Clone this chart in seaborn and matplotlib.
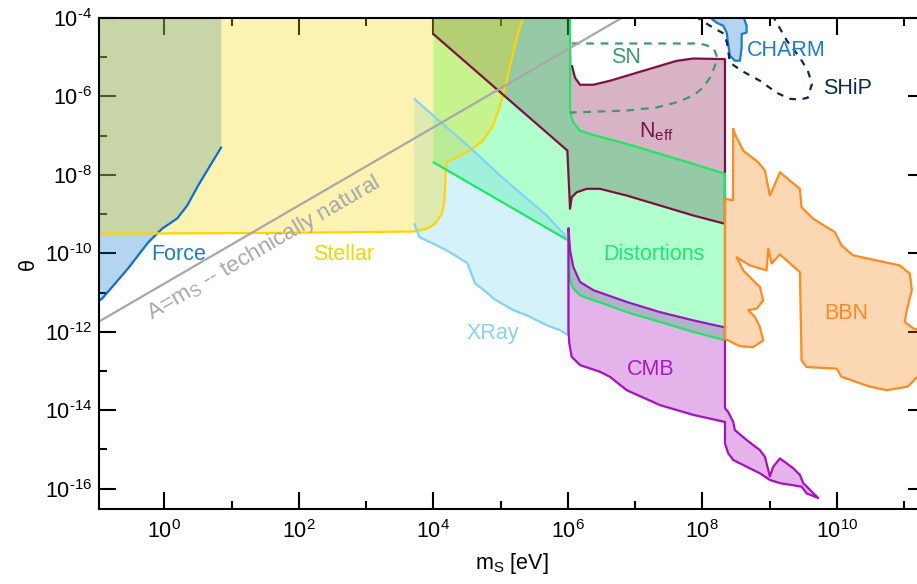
import numpy as np
import matplotlib
matplotlib.use("Agg")
import matplotlib.pyplot as plt
import seaborn as sns
from matplotlib.ticker import NullFormatter

# ---------------- data (log10 m_S [eV], log10 theta) ----------------
force_pts = [(-0.98, -11.22), (-0.921, -11.15), (-0.535, -10.38), (-0.238, -9.72), (-0.030, -9.37),
             (0.193, -9.11), (0.342, -8.78), (0.505, -8.27), (0.684, -7.76), (0.847, -7.30)]
force_top = [(0.847, -3.9), (-0.98, -3.9)]

stellar_pts = [(-0.98, -9.50), (1.724, -9.48), (3.703, -9.445), (3.903, -9.374), (4.027, -9.247),
               (4.126, -8.992), (4.16, -8.738), (4.175, -8.315), (4.186, -7.89), (4.198, -7.68),
               (4.547, -7.382), (4.74, -7.127), (4.889, -6.746), (4.993, -6.24), (5.067, -5.78),
               (5.141, -5.22), (5.215, -4.71), (5.26, -4.38), (5.345, -3.95)]
stellar_top = [(-0.98, -3.95)]

neff_pts = [(4.001, -3.95), (4.001, -4.41), (5.993, -7.38), (6.033, -8.865), (6.058, -8.57),
            (6.132, -8.443), (6.281, -8.356), (6.478, -8.356), (6.875, -8.527), (7.370, -8.781),
            (7.865, -9.036), (8.336, -9.247), (8.336, -5.048), (7.865, -5.033), (7.618, -5.092),
            (7.370, -5.219), (7.122, -5.346), (6.875, -5.473), (6.627, -5.60), (6.379, -5.702),
            (6.181, -5.702), (6.107, -5.524), (6.062, -5.22), (6.048, -4.58), (6.04, -3.95)]

dist_pts = [(4.001, -7.679), (6.007, -9.672), (6.033, -10.69), (6.082, -10.90), (6.181, -11.07),
            (6.379, -11.20), (6.528, -11.28), (6.875, -11.50), (7.370, -11.75), (7.865, -12.005),
            (8.336, -12.216), (8.336, -7.975), (7.865, -7.72), (7.370, -7.466), (6.875, -7.211),
            (6.379, -6.982), (6.181, -6.873), (6.082, -6.662), (6.033, -6.407), (6.033, -3.95),
            (4.001, -3.95)]

xray_pts = [(3.719, -6.066), (4.201, -6.789), (4.596, -7.382), (4.993, -8.018), (5.339, -8.527),
            (5.686, -9.036), (6.007, -9.628), (6.007, -12.09), (5.884, -11.96), (5.686, -11.835),
            (5.389, -11.58), (5.190, -11.45), (4.893, -11.155), (4.844, -11.07), (4.721, -10.90),
            (4.621, -10.77), (4.547, -10.43), (4.507, -10.25), (4.201, -9.926), (4.001, -9.756),
            (3.793, -9.588), (3.755, -9.417), (3.719, -9.247)]

cmb_pts = [(6.01, -9.366), (6.033, -9.926), (6.082, -10.35), (6.181, -10.73), (6.379, -10.94),
           (6.875, -11.24), (7.370, -11.50), (7.865, -11.71), (8.336, -11.89), (8.336, -13.95),
           (8.385, -14.05), (8.459, -14.30), (8.484, -14.51), (8.658, -14.76), (8.856, -15.02),
           (8.930, -15.19), (9.004, -15.69), (9.054, -15.44), (9.153, -15.23), (9.351, -15.48),
           (9.45, -15.65), (9.50, -15.86), (9.722, -16.24), (9.549, -16.12), (9.475, -15.95),
           (9.153, -15.86), (9.004, -15.78), (8.856, -15.61), (8.657, -15.44), (8.459, -15.27),
           (8.385, -15.10), (8.336, -14.845), (8.336, -14.30), (7.865, -14.12), (7.370, -13.87),
           (6.875, -13.49), (6.627, -13.15), (6.478, -13.02), (6.181, -12.85), (6.058, -12.64),
           (6.022, -12.30), (6.01, -11.96)]

bbn_pts = [(8.459, -6.83), (8.484, -6.957), (8.608, -7.382), (8.831, -7.679), (8.930, -7.891),
           (9.004, -8.527), (9.153, -7.934), (9.450, -8.356), (9.475, -8.824), (9.648, -9.12),
           (9.970, -9.46), (10.07, -9.80), (10.24, -10.05), (10.936, -10.31), (11.085, -10.52),
           (11.114, -10.94), (11.04, -11.45), (11.01, -11.75), (11.13, -11.91), (11.45, -12.09),
           (11.45, -13.11), (11.19, -13.16), (11.055, -13.40), (10.74, -13.49), (10.49, -13.40),
           (10.07, -13.15), (9.995, -12.94), (9.549, -12.90), (9.475, -12.73), (9.450, -10.48),
           (9.153, -10.03), (9.03, -10.26), (8.98, -9.88), (8.955, -10.435), (8.707, -10.31),
           (8.51, -10.10), (8.608, -10.435), (8.707, -10.61), (8.856, -10.86), (8.905, -11.20),
           (8.807, -11.41), (8.682, -11.45), (8.781, -11.62), (8.856, -11.88), (8.905, -12.22),
           (8.757, -12.39), (8.559, -12.37), (8.361, -12.20), (8.336, -12.19), (8.336, -8.61),
           (8.455, -8.65), (8.459, -6.83)]

sn_pts = [(6.058, -4.65), (7.073, -4.65), (7.964, -4.65), (8.162, -4.75), (8.212, -4.96),
          (8.187, -5.22), (8.113, -5.52), (8.013, -5.77), (7.865, -5.98), (7.618, -6.15),
          (7.321, -6.28), (6.875, -6.36), (6.379, -6.39), (6.033, -6.41)]

charm_pts = [(8.088, -3.95), (8.213, -4.12), (8.311, -4.20), (8.361, -4.37), (8.385, -4.67),
             (8.410, -4.965), (8.484, -5.09), (8.559, -5.09), (8.584, -4.75), (8.584, -4.41),
             (8.658, -4.37), (8.658, -4.20), (8.608, -3.95)]

ship_pts = [(7.89, -3.95), (8.143, -4.23), (8.321, -4.40), (8.366, -4.63), (8.41, -5.14),
            (8.588, -5.35), (8.856, -5.60), (9.108, -5.91), (9.301, -6.06), (9.45, -6.08),
            (9.569, -6.03), (9.629, -5.68), (9.569, -5.35), (9.45, -5.01), (9.257, -4.58),
            (9.049, -3.95)]

natural_pts = [(-0.97, -11.74), (6.85, -3.95)]

labels = ["Force", "Stellar", "XRay", "Distortions", "CMB", "N$_\\mathrm{eff}$", "SN",
          "CHARM", "SHiP", "BBN"]
label_pos = [(0.215, -10.04), (2.66, -10.04), (4.881, -12.05), (7.273, -10.04), (7.236, -12.97),
             (7.31, -6.90), (6.86, -5.0), (9.24, -4.84), (10.16, -5.80), (10.14, -11.54)]
label_col = ["#1e78d2", "#f8d400", "#87d3f8", "#1ee870", "#aa18c8", "#7a1446", "#3d9a6c",
             "#1a7ad6", "#0e2a4a", "#ff8a20"]

xmajor_exp = [0, 2, 4, 6, 8, 10]
xminor_exp = [1, 3, 5, 7, 9, 11]
ymajor_exp = [-16, -14, -12, -10, -8, -6, -4]
yminor_exp = [-15, -13, -11, -9, -7, -5]

# ---------------- style ----------------
sns.set_theme(style="ticks")
plt.rcParams["font.family"] = ["Liberation Sans", "DejaVu Sans"]
plt.rcParams["mathtext.fontset"] = "custom"
plt.rcParams["mathtext.rm"] = "Liberation Sans"
plt.rcParams["mathtext.it"] = "Liberation Sans:italic"
plt.rcParams["mathtext.bf"] = "Liberation Sans:bold"
plt.rcParams["mathtext.default"] = "regular"

fig = plt.figure(figsize=(9.17, 5.84), dpi=100)
ax = fig.add_axes([99 / 917, 1 - 509 / 584, (925 - 99) / 917, (509 - 18) / 584])
ax.set_xscale("log")
ax.set_yscale("log")
ax.set_xlim(10 ** -0.97, 10 ** 11.31)
ax.set_ylim(10 ** -16.52, 10 ** -4.02)


def arr(pts):
    a = np.array(pts, dtype=float)
    return 10 ** a[:, 0], 10 ** a[:, 1]


def fill(pts, color, alpha=0.3):
    x, y = arr(pts)
    ax.fill(x, y, color=color, alpha=alpha, lw=0)


def line(pts, color, lw=1.6, ls="-"):
    x, y = arr(pts)
    sns.lineplot(x=x, y=y, sort=False, estimator=None, color=color, lw=lw,
                 linestyle=ls, ax=ax)


def sup_label(e):
    if e < 0:
        return "$10^{\\text{-}%d}$" % (-e)
    return "$10^{%d}$" % e


# fills (order matters for overlap colours)
fill(force_pts + force_top, (8 / 255, 115 / 255, 208 / 255))
fill(neff_pts, (128 / 255, 2 / 255, 65 / 255))
fill(dist_pts, (0, 1.0, 95 / 255))
fill(xray_pts, (118 / 255, 212 / 255, 245 / 255))
fill(cmb_pts, (165 / 255, 5 / 255, 188 / 255))
fill(stellar_pts + stellar_top, (248 / 255, 218 / 255, 0))
fill(bbn_pts, (248 / 255, 125 / 255, 5 / 255))
fill(charm_pts, (8 / 255, 115 / 255, 208 / 255))

# outlines
line(force_pts, "#0a6fd0")
line(stellar_pts, "#ffd400")
line(neff_pts[1:-2], "#7d1145")
line(dist_pts[:-1], "#1ee860")
line(xray_pts, "#82d2fa")
line(cmb_pts + cmb_pts[:1], "#a810c4")
line(bbn_pts, "#ff8a1e")
line(charm_pts, "#1a7ad6")
line(sn_pts, "#3d9a6c", ls=(0, (3.5, 3.0)))
line(ship_pts, "#0e2a4a", ls=(0, (3.0, 3.0)))
line(natural_pts, "#a8a8a8")

ax.text(10 ** 1.486, 10 ** -9.875, "A=m$_\\mathrm{S}$ -- technically natural", color="#a8a8a8",
        fontsize=16.2, rotation=30.2, ha="center", va="center", rotation_mode="anchor")

for lab, (lx, ly), c in zip(labels, label_pos, label_col):
    ax.text(10 ** lx, 10 ** ly, lab, color=c, fontsize=15.5, ha="center", va="center")

# axes / ticks
ax.set_xticks([10.0 ** e for e in xmajor_exp])
ax.set_xticklabels([sup_label(e) for e in xmajor_exp])
ax.set_xticks([10.0 ** e for e in xminor_exp], minor=True)
ax.set_yticks([10.0 ** e for e in ymajor_exp])
ax.set_yticklabels([sup_label(e) for e in ymajor_exp])
ax.set_yticks([10.0 ** e for e in yminor_exp], minor=True)
ax.xaxis.set_minor_formatter(NullFormatter())
ax.yaxis.set_minor_formatter(NullFormatter())
ax.tick_params(which="major", direction="in", length=12, width=1.5, top=True, right=True,
               labelsize=15.5, color="black", labelcolor="black")
ax.tick_params(axis="x", which="major", pad=8)
ax.tick_params(axis="y", which="major", pad=5)
ax.tick_params(which="minor", direction="in", length=6, width=1.5, top=True, right=True,
               color="black")
for s in ax.spines.values():
    s.set_linewidth(1.5)
    s.set_color("black")

ax.set_xlabel("m$_\\mathrm{S}$ [eV]", fontsize=15.5, color="black", labelpad=6)
ax.set_ylabel("θ", fontsize=15.5, color="black", labelpad=4)

fig.savefig("out.png", dpi=100)
